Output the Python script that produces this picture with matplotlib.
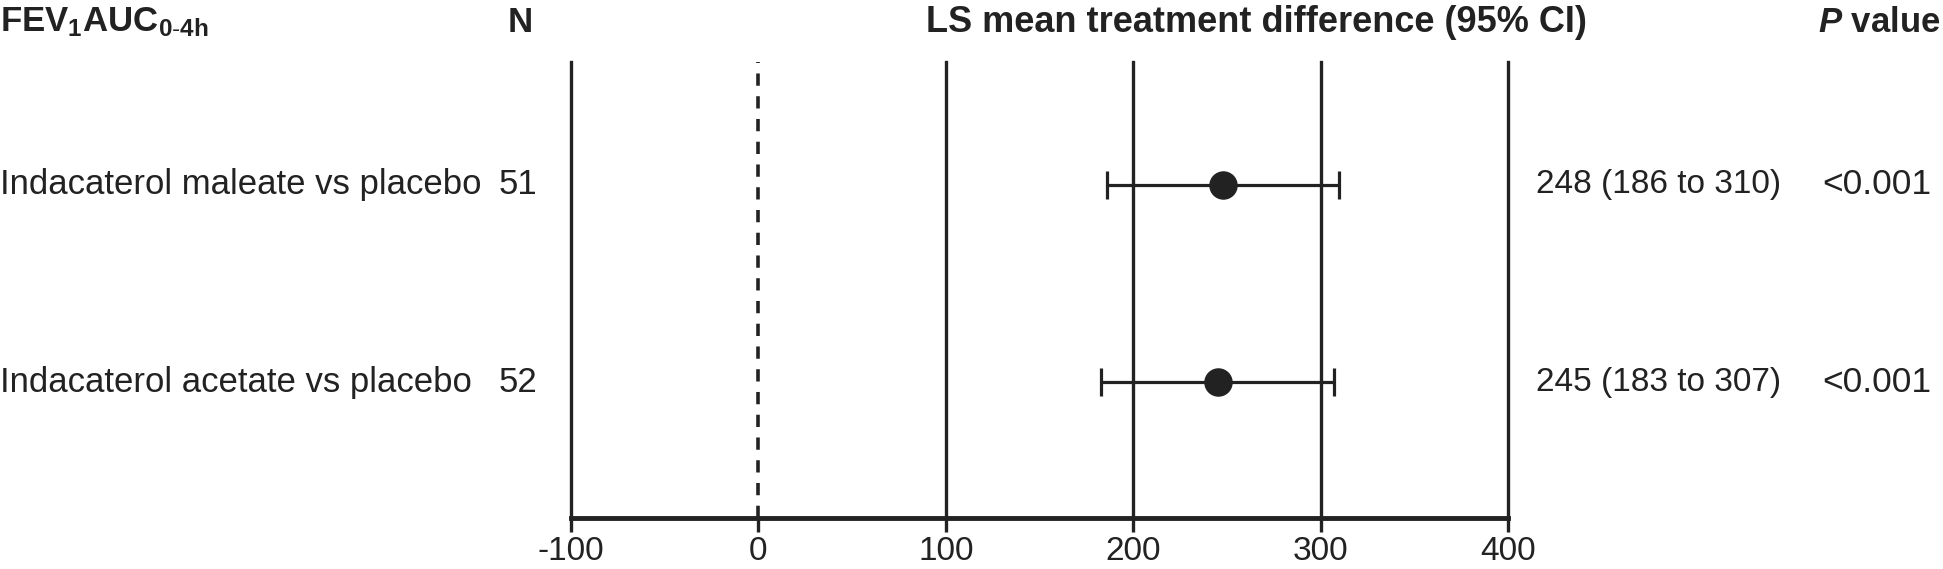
import matplotlib.pyplot as plt
import matplotlib.transforms as mtransforms

plt.rcParams['font.family'] = ['Liberation Sans', 'DejaVu Sans']
plt.rcParams['mathtext.fontset'] = 'custom'
plt.rcParams['mathtext.rm'] = 'Liberation Sans'
plt.rcParams['mathtext.bf'] = 'Liberation Sans:bold'
plt.rcParams['mathtext.it'] = 'Liberation Sans:italic'
plt.rcParams['mathtext.bfit'] = 'Liberation Sans:bold:italic'

# data
comparisons = ["Indacaterol maleate vs placebo", "Indacaterol acetate vs placebo"]
n_values = [51, 52]
ls_mean = [248, 245]
ci_low = [186, 183]
ci_high = [310, 307]
p_values = ["<0.001", "<0.001"]
xticks = [-100, 0, 100, 200, 300, 400]

W, H = 1943, 569
fig = plt.figure(figsize=(W / 100, H / 100), dpi=100)

# axes in pixel coords: left 571, right 1508, top 62, bottom 518
ax = fig.add_axes([571 / W, 1 - 518 / H, (1508 - 571) / W, (518 - 62) / H])
rows = list(range(len(comparisons)))
ax.set_xlim(-100, 400)
ax.set_ylim(1.690, -0.624)

col = "#222222"
for x in xticks:
    if x == 0:
        ax.axvline(x, color=col, lw=2.6, ls=(0, (3.4, 2.9)), zorder=1,
                   clip_on=False)
    else:
        ax.axvline(x, color=col, lw=2.4, zorder=1, clip_on=False)

xerr = [[m - lo for m, lo in zip(ls_mean, ci_low)],
        [hi - m for m, hi in zip(ls_mean, ci_high)]]
ax.errorbar(ls_mean, rows, xerr=xerr, fmt="o", color=col, ms=19.5,
            elinewidth=2.3, capsize=10, capthick=2.3, zorder=3)

for s in ["top", "left", "right"]:
    ax.spines[s].set_visible(False)
ax.spines["bottom"].set_linewidth(3.5)
ax.spines["bottom"].set_color(col)
ax.set_yticks([])
ax.set_xticks(xticks)
ax.set_xticklabels([str(x) for x in xticks])
ax.tick_params(axis="x", length=10, width=2.4, color=col, labelsize=24,
               labelcolor=col, pad=3)

# text columns: x in figure pixels, y in data
tr = mtransforms.blended_transform_factory(fig.transFigure, ax.transData)
fs = 25
for i in rows:
    fig.text(0 / W, i, comparisons[i], transform=tr, fontsize=fs, color=col,
             ha="left", va="center")
    fig.text(518 / W, i, str(n_values[i]), transform=tr, fontsize=fs, color=col,
             ha="center", va="center")
    fig.text(1536 / W, i, f"{ls_mean[i]} ({ci_low[i]} to {ci_high[i]})",
             transform=tr, fontsize=24, color=col, ha="left", va="center")
    fig.text(1877 / W, i, p_values[i], transform=tr, fontsize=25.5, color=col,
             ha="center", va="center")

hy = 1 - 22 / H
fs_h = 25
fig.text(0, hy, r"FEV$_\mathbf{1}$AUC$_\mathbf{0\text{-}4h}$", fontsize=fs_h,
         fontweight="bold", color=col, ha="left", va="center")
fig.text(520 / W, hy, "N", fontsize=fs_h, fontweight="bold", color=col,
         ha="center", va="center")
fig.text(1587 / W, hy, "LS mean treatment difference (95% CI)", fontsize=26,
         fontweight="bold", color=col, ha="right", va="center")
fig.text(1940 / W, hy, r"$\bfit{P}$ value", fontsize=fs_h, fontweight="bold",
         color=col, ha="right", va="center")

fig.savefig("out.png", dpi=100)
